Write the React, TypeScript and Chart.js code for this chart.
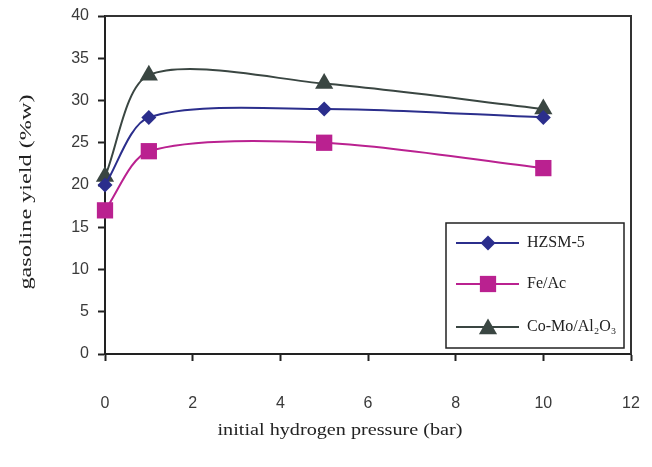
import { useEffect, useRef } from 'react';
import { Chart, registerables } from 'chart.js';

Chart.register(...registerables);

const pressures = [0, 1, 5, 10];
const hzsm5 = [20, 28, 29, 28];
const feAc = [17, 24, 25, 22];
const coMo = [21, 33, 32, 29];
const seriesNames = ['HZSM-5', 'Fe/Ac', 'Co-Mo/Al₂O₃'];
const seriesColors = ['#2B2E8C', '#BA2190', '#3A4642'];
const seriesShapes = ['rectRot', 'rect', 'triangle'];
const seriesRadius = [7.5, 11.5, 10.5];
const xTitle = 'initial hydrogen pressure (bar)';
const yTitle = 'gasoline yield (%w)';

function drawShape(ctx: CanvasRenderingContext2D, shape: string, x: number, y: number, r: number) {
  ctx.beginPath();
  if (shape === 'rectRot') {
    ctx.moveTo(x, y - r);
    ctx.lineTo(x + r, y);
    ctx.lineTo(x, y + r);
    ctx.lineTo(x - r, y);
  } else if (shape === 'rect') {
    const h = Math.SQRT1_2 * r;
    ctx.rect(x - h, y - h, 2 * h, 2 * h);
  } else {
    ctx.moveTo(x, y - r);
    ctx.lineTo(x + r * Math.cos(Math.PI / 6), y + r * 0.5);
    ctx.lineTo(x - r * Math.cos(Math.PI / 6), y + r * 0.5);
  }
  ctx.closePath();
  ctx.fill();
}

const decorPlugin = {
  id: 'decor',
  beforeDatasetsDraw(chart: any) {
    const { ctx, chartArea } = chart;
    ctx.save();
    ctx.strokeStyle = '#333';
    ctx.lineWidth = 2;
    ctx.beginPath();
    ctx.moveTo(chartArea.left, chartArea.top);
    ctx.lineTo(chartArea.right, chartArea.top);
    ctx.lineTo(chartArea.right, chartArea.bottom);
    ctx.stroke();
    ctx.restore();
  },
  afterDraw(chart: any) {
    const { ctx } = chart;
    ctx.save();
    ctx.fillStyle = '#222';
    ctx.font = '17px "Liberation Serif"';
    ctx.textAlign = 'center';
    ctx.textBaseline = 'middle';
    // x title
    let w = ctx.measureText(xTitle).width;
    ctx.save();
    ctx.translate(340, 431);
    ctx.scale(245 / w, 1);
    ctx.fillText(xTitle, 0, 0);
    ctx.restore();
    // y title
    w = ctx.measureText(yTitle).width;
    ctx.save();
    ctx.translate(27, 192);
    ctx.rotate(-Math.PI / 2);
    ctx.scale(195 / w, 1);
    ctx.fillText(yTitle, 0, 0);
    ctx.restore();

    // legend
    ctx.fillStyle = '#fff';
    ctx.fillRect(446, 223, 178, 125);
    ctx.strokeStyle = '#222';
    ctx.lineWidth = 1.5;
    ctx.strokeRect(446, 223, 178, 125);
    const rows = [243, 284, 327];
    ctx.font = '16px "Liberation Serif"';
    ctx.textAlign = 'left';
    seriesNames.forEach((name, i) => {
      const y = rows[i];
      ctx.strokeStyle = seriesColors[i];
      ctx.lineWidth = 2;
      ctx.beginPath();
      ctx.moveTo(456, y);
      ctx.lineTo(519, y);
      ctx.stroke();
      ctx.fillStyle = seriesColors[i];
      drawShape(ctx, seriesShapes[i], 488, i === 2 ? y + 2 : y, seriesRadius[i]);
      ctx.fillStyle = '#222';
      ctx.fillText(name, 527, y);
    });
    ctx.restore();
  },
};

export default function App() {
  const ref = useRef<HTMLCanvasElement>(null);
  useEffect(() => {
    if (!ref.current) return;
    const all = [hzsm5, feAc, coMo];
    const chart = new Chart(ref.current, {
      type: 'line',
      data: {
        datasets: all.map((vals, i) => ({
          label: seriesNames[i],
          data: pressures.map((p, j) => ({ x: p, y: vals[j] })),
          borderColor: seriesColors[i],
          backgroundColor: seriesColors[i],
          borderWidth: 2,
          pointStyle: seriesShapes[i] as any,
          pointRadius: seriesRadius[i],
          pointBorderWidth: 0,
          pointBackgroundColor: seriesColors[i],
          tension: 0.28,
          clip: false as any,
        })),
      },
      options: {
        animation: false,
        responsive: false,
        layout: { padding: { top: 16, right: 21, left: 0, bottom: 0 } },
        plugins: { legend: { display: false }, tooltip: { enabled: false } },
        scales: {
          x: {
            type: 'linear',
            min: 0,
            max: 12,
            ticks: { stepSize: 2, padding: 33, color: '#3a3a3a', font: { family: 'Liberation Sans', size: 16 } },
            grid: { drawOnChartArea: false, drawTicks: true, tickLength: 7, tickWidth: 2, tickColor: '#222' },
            border: { display: true, width: 2, color: '#222' },
            afterFit: (s: any) => { s.height = 113; s.paddingLeft = 0; s.paddingRight = 0; },
          },
          y: {
            min: 0,
            max: 40,
            ticks: { stepSize: 5, padding: 9, color: '#3a3a3a', font: { family: 'Liberation Sans', size: 16 } },
            grid: { drawOnChartArea: false, drawTicks: true, tickLength: 7, tickWidth: 2, tickColor: '#222' },
            border: { display: true, width: 2, color: '#222' },
            afterFit: (s: any) => { s.width = 105; s.paddingTop = 0; s.paddingBottom = 0; },
          },
        },
      },
      plugins: [decorPlugin],
    });
    return () => chart.destroy();
  }, []);
  return (
    <div style={{ position: 'fixed', left: 0, top: 0, width: 652, height: 467, background: '#fff' }}>
      <canvas ref={ref} width={652} height={467} style={{ display: 'block' }} />
    </div>
  );
}
